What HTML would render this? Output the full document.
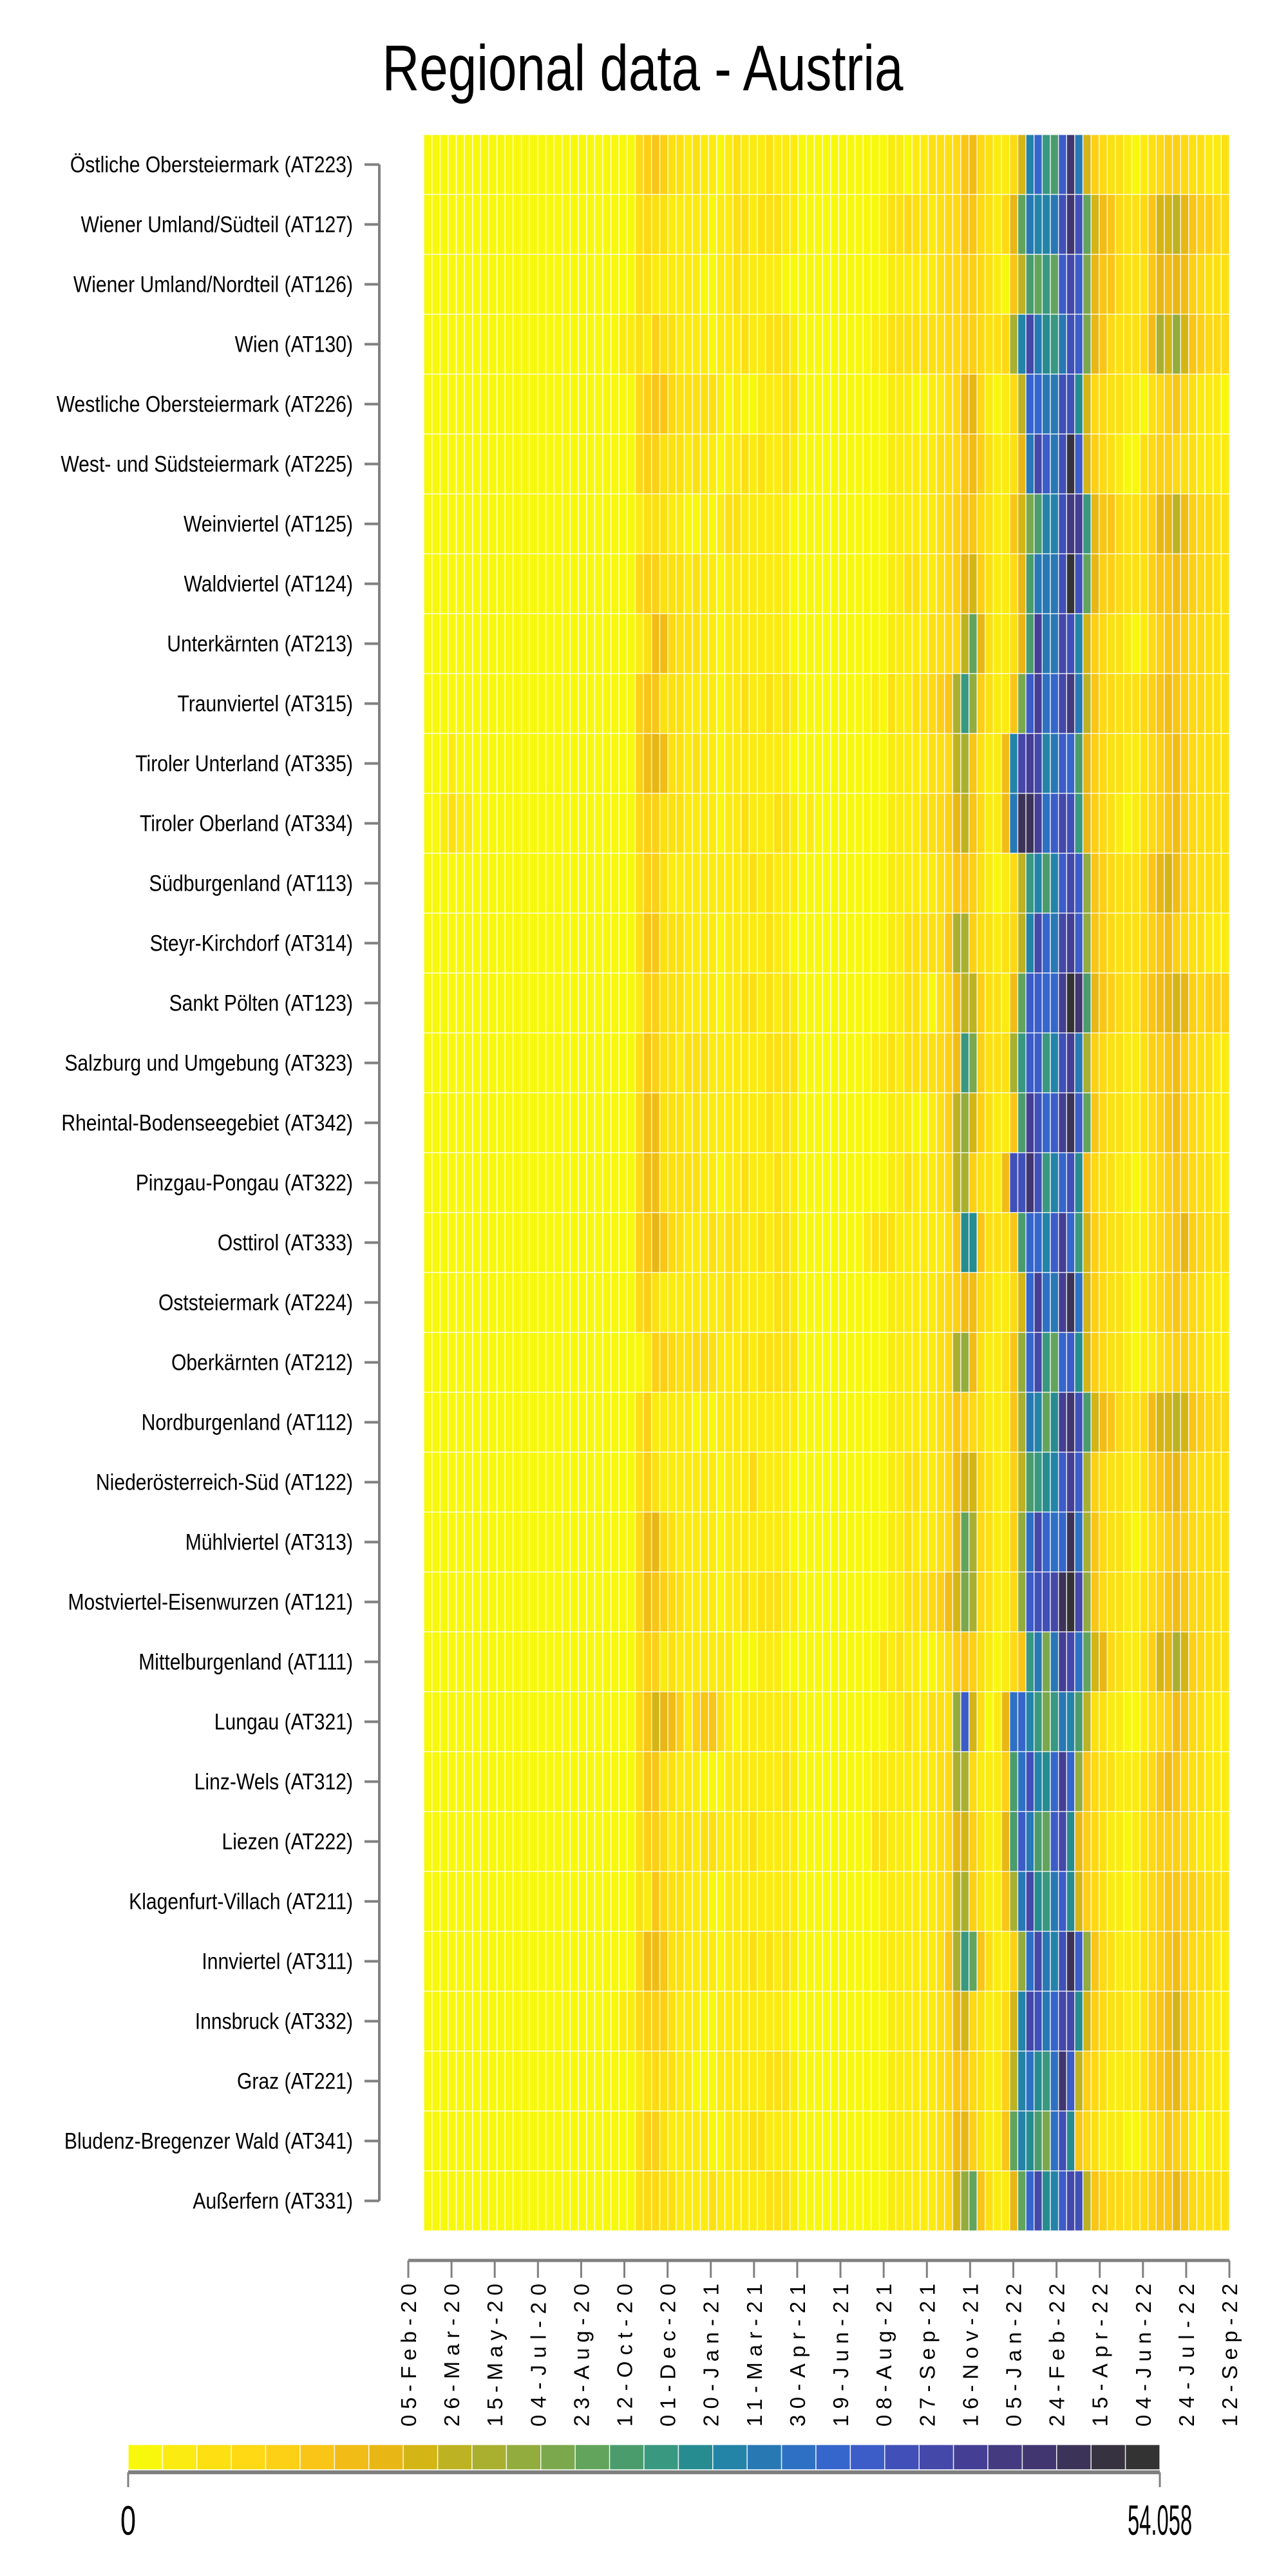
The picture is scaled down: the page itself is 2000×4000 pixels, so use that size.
<!DOCTYPE html>
<html><head><meta charset="utf-8"><title>Regional data - Austria</title>
<style>
html,body{margin:0;padding:0;background:#fff;}
svg{display:block;}
text{font-family:"Liberation Sans Narrow","Liberation Sans",sans-serif;fill:#000;}
</style></head>
<body>
<svg id="chart" xmlns="http://www.w3.org/2000/svg" width="2000" height="4000" viewBox="0 0 2000 4000">
<text x="998" y="140" text-anchor="middle" font-size="100" textLength="809" lengthAdjust="spacingAndGlyphs">Regional data - Austria</text>
<g id="cells"></g>
<g id="yaxis"></g>
<g id="xaxis"></g>
<g id="legend"></g>
</svg>
<script>
const regions = ["Östliche Obersteiermark (AT223)","Wiener Umland/Südteil (AT127)","Wiener Umland/Nordteil (AT126)","Wien (AT130)","Westliche Obersteiermark (AT226)","West- und Südsteiermark (AT225)","Weinviertel (AT125)","Waldviertel (AT124)","Unterkärnten (AT213)","Traunviertel (AT315)","Tiroler Unterland (AT335)","Tiroler Oberland (AT334)","Südburgenland (AT113)","Steyr-Kirchdorf (AT314)","Sankt Pölten (AT123)","Salzburg und Umgebung (AT323)","Rheintal-Bodenseegebiet (AT342)","Pinzgau-Pongau (AT322)","Osttirol (AT333)","Oststeiermark (AT224)","Oberkärnten (AT212)","Nordburgenland (AT112)","Niederösterreich-Süd (AT122)","Mühlviertel (AT313)","Mostviertel-Eisenwurzen (AT121)","Mittelburgenland (AT111)","Lungau (AT321)","Linz-Wels (AT312)","Liezen (AT222)","Klagenfurt-Villach (AT211)","Innviertel (AT311)","Innsbruck (AT332)","Graz (AT221)","Bludenz-Bregenzer Wald (AT341)","Außerfern (AT331)"];
const tickLabels = ["05-Feb-20","26-Mar-20","15-May-20","04-Jul-20","23-Aug-20","12-Oct-20","01-Dec-20","20-Jan-21","11-Mar-21","30-Apr-21","19-Jun-21","08-Aug-21","27-Sep-21","16-Nov-21","05-Jan-22","24-Feb-22","15-Apr-22","04-Jun-22","24-Jul-22","12-Sep-22"];
const tickDays = [0,50,100,150,200,250,300,350,400,450,500,550,600,650,700,750,800,850,900,950];
const valueMin = 0;
const valueMax = 54.058;
const palette = ["#F8F80C","#FCEB10","#FDE012","#FED914","#FDD016","#F9C516","#F2BC16","#E8B716","#D4B516","#BDB322","#A9B030","#93AC3E","#7BA84C","#62A45C","#4B9C6C","#389880","#268C90","#2384A8","#2878B4","#2E70C4","#3566CC","#3C5CC8","#4050B8","#4448A8","#443E94","#433A80","#413670","#3C3458","#363240","#333333"];
const Z = "00000000000000000000000000";
// cell values encoded as colour-bin levels (0-9, a-t => 0..29), one string per region, 99 periods
const cellLevels = [
Z+"3454221"+"21101211"+"12111"+"00000000000"+"1101122235"+"6321138hkf"+"elqi843221"+"0123443221"+"12",
Z+"2322111"+"11011221"+"22211"+"00000000001"+"2232212335"+"532137dihh"+"imqmd86532"+"2358897544"+"33",
Z+"2211111"+"10011211"+"11100"+"00000000000"+"1111112334"+"4321059edf"+"dlnlc75532"+"2257676432"+"22",
"00000000000000000000000011"+"2142211"+"11011121"+"12221"+"00000000011"+"2222222334"+"43223ahnig"+"fimlc75322"+"236a8b8543"+"33",
Z+"3455322"+"22210100"+"11122"+"00000000000"+"1110011236"+"7310139kki"+"immg833221"+"1023453211"+"10",
Z+"3442221"+"21101121"+"21121"+"00000000000"+"1111112235"+"6421127inl"+"imsl843210"+"0234432211"+"11",
Z+"1222110"+"01012211"+"11110"+"00000000000"+"1111112345"+"5321158ceh"+"hmpof75532"+"2347796433"+"22",
Z+"3442221"+"21101111"+"11110"+"00000000000"+"1122112347"+"8421137eii"+"imtmd74432"+"2245565433"+"22",
Z+"1266322"+"21101111"+"11110"+"00000000000"+"1111122339"+"d721127eoi"+"inmh843221"+"0134554332"+"22",
Z+"4552221"+"11101121"+"12121"+"00000000010"+"21122345af"+"b42115cloj"+"knpi953322"+"2345654332"+"22",
"00010000000000000000000000"+"4676221"+"21101111"+"11110"+"00000000000"+"111112239a"+"52116hnonh"+"ilke743221"+"1234564322"+"22",
"00121100000000000000000000"+"3442221"+"11101121"+"11221"+"01000000000"+"1111223479"+"53116irroj"+"lnmf743210"+"1234564322"+"22",
Z+"2442111"+"11111112"+"12111"+"00000000000"+"1111112355"+"4210139fhe"+"hlnlb54322"+"2357864322"+"22",
Z+"2552221"+"11101111"+"12110"+"00000000000"+"11222225aa"+"4221239hnk"+"inolb54322"+"2345643221"+"11",
Z+"1442221"+"11101122"+"12121"+"00000000000"+"1122102369"+"942216dllk"+"kotqe75432"+"2456787434"+"44",
Z+"2542212"+"22111111"+"12222"+"00000000011"+"212222346f"+"c4222afllf"+"hmoia43221"+"1244564322"+"11",
Z+"3662221"+"21111111"+"12121"+"00000000000"+"111001249b"+"842115eomk"+"lorld53221"+"1234564321"+"11",
Z+"3662222"+"21101121"+"11211"+"00000000000"+"112111239a"+"42216mmqmf"+"hkmg632211"+"0123454322"+"11",
Z+"4575321"+"11212211"+"21221"+"00000000122"+"211111125g"+"g52225ekkh"+"lokf843221"+"1123457432"+"22",
Z+"3421111"+"11112111"+"11221"+"00000000000"+"1111112346"+"6321138koj"+"iorj843221"+"0123454321"+"11",
Z+"0144322"+"33211121"+"22222"+"00000000000"+"11111123ab"+"621125bknf"+"dklg843221"+"0112344321"+"11",
Z+"2411111"+"01011111"+"11111"+"00000000000"+"1111112354"+"321115aihd"+"goqme86532"+"2368898543"+"33",
Z+"2421111"+"11101113"+"11110"+"00000000000"+"1122112368"+"8321149efg"+"hlola43221"+"1245675322"+"22",
Z+"3673211"+"11101111"+"11110"+"00000000000"+"112111237d"+"a32114bjnk"+"jkrja53221"+"0123454322"+"22",
Z+"3654321"+"11101121"+"22211"+"00000000000"+"112223468c"+"a32113blmm"+"nrtnb53221"+"1234565332"+"22",
Z+"2441211"+"11111000"+"11100"+"00000000002"+"1211001245"+"4210135fic"+"ionjd87321"+"12487a8432"+"22",
Z+"3587641"+"45521011"+"11111"+"00000000000"+"11211222bl"+"82017jkhfc"+"fihe922110"+"0123465321"+"11",
Z+"2552211"+"10001111"+"11121"+"00000000011"+"11111123aa"+"31114ejmhg"+"kokb532211"+"1235653221"+"11",
Z+"2443122"+"12211112"+"11111"+"00000000022"+"1110112378"+"42117elied"+"lng7432110"+"1234443211"+"11",
Z+"2153221"+"11001111"+"11111"+"00000000001"+"111111239a"+"42115aingf"+"ilg8432110"+"1234554432"+"22",
Z+"3665221"+"11101112"+"12121"+"00000000001"+"11111125af"+"d52114bjni"+"hmrlb53211"+"1234564322"+"11",
"00000000000000000000000011"+"3444211"+"10011111"+"11110"+"00000000000"+"1111112378"+"321138hnmi"+"knng843221"+"1245685321"+"11",
Z+"1232211"+"00011111"+"12221"+"00000000000"+"1111112355"+"321149hjgf"+"jql9432111"+"1245674321"+"11",
Z+"2442111"+"11001112"+"21111"+"00000000000"+"1111112367"+"42115dhgec"+"jmg5321110"+"0123543101"+"11",
Z+"2332211"+"11211111"+"12221"+"00000000000"+"111111238b"+"d52117dkng"+"hlnm954332"+"3345575322"+"22"
];
const NS = "http://www.w3.org/2000/svg";
const nCols = 99;
const binW = (valueMax - valueMin) / palette.length;
const values = cellLevels.map(s => s.split("").map(ch => parseInt(ch, 36) * binW + binW / 2));
const plot = {x0: 658, x1: 1909, y0: 209, y1: 3464};
const xCell = i => plot.x0 + i * (plot.x1 - plot.x0) / nCols;
const yRow = r => plot.y0 + r * (plot.y1 - plot.y0) / regions.length;
const rowH = (plot.y1 - plot.y0) / regions.length;
const colorOf = v => palette[Math.max(0, Math.min(palette.length - 1, Math.floor((v - valueMin) / binW)))];
const xDate = d => 634 + d * (1909 - 634) / 950;
function mk(tag, attrs, parent) { const e = document.createElementNS(NS, tag); for (const k in attrs) e.setAttribute(k, attrs[k]); parent.appendChild(e); return e; }

const cells = document.getElementById("cells");
values.forEach((row, r) => {
  row.forEach((v, i) => {
    const rc = mk("rect", {x: xCell(i), y: yRow(r), width: xCell(i + 1) - xCell(i), height: rowH, fill: colorOf(v), stroke: "#ffffff", "stroke-width": 1.4, "stroke-opacity": 0.8}, cells);
    
    
  });
});

const ya = document.getElementById("yaxis");
const yl = mk("line", {x1: 589, x2: 589, y1: yRow(0) + rowH / 2, y2: yRow(regions.length - 1) + rowH / 2, stroke: "#808080", "stroke-width": 4}, ya);


regions.forEach((name, r) => {
  const cy = yRow(r) + rowH / 2;
  const tk = mk("line", {x1: 566, x2: 589, y1: cy, y2: cy, stroke: "#808080", "stroke-width": 4}, ya);
  
  
  const t = mk("text", {x: 0, y: 0, "text-anchor": "end", "font-size": 35, transform: "translate(548," + (cy + 12) + ") scale(0.86,1)"}, ya);
  t.textContent = name;
  
  
});

const xa = document.getElementById("xaxis");
const xl = mk("line", {x1: xDate(tickDays[0]), x2: xDate(tickDays[tickDays.length - 1]), y1: 3510, y2: 3510, stroke: "#808080", "stroke-width": 5}, xa);


tickDays.forEach((d, i) => {
  const x = xDate(d);
  const tk = mk("line", {x1: x, x2: x, y1: 3510, y2: 3537, stroke: "#808080", "stroke-width": 3}, xa);
  
  
  const t = mk("text", {transform: "translate(" + (x + 12) + ",3546) rotate(-90)", "text-anchor": "end", "font-size": 33, textLength: 222, lengthAdjust: "spacing", style: "font-family:'Liberation Sans',sans-serif"}, xa);
  t.textContent = tickLabels[i];
  
  
});

const lg = document.getElementById("legend");
const lx0 = 199, lx1 = 1801;
const bw = (lx1 - lx0) / palette.length;
palette.forEach((c, k) => {
  const b = mk("rect", {x: lx0 + k * bw, y: 3796, width: bw, height: 39, fill: c, stroke: "#ffffff", "stroke-width": 1.5, "stroke-opacity": 0.8}, lg);
  
  
});
const ll = mk("line", {x1: lx0, x2: lx1, y1: 3839, y2: 3839, stroke: "#808080", "stroke-width": 6}, lg);


[lx0, lx1].forEach(x => {
  const tk = mk("line", {x1: x, x2: x, y1: 3839, y2: 3862, stroke: "#808080", "stroke-width": 3}, lg);
  
  
});
const t0 = mk("text", {x: lx0, y: 3936, "text-anchor": "middle", "font-size": 64, textLength: 24, lengthAdjust: "spacingAndGlyphs"}, lg);
t0.textContent = String(valueMin);


const t1 = mk("text", {x: lx1, y: 3936, "text-anchor": "middle", "font-size": 66, textLength: 100, lengthAdjust: "spacingAndGlyphs"}, lg);
t1.textContent = String(valueMax);


</script>
</body></html>
